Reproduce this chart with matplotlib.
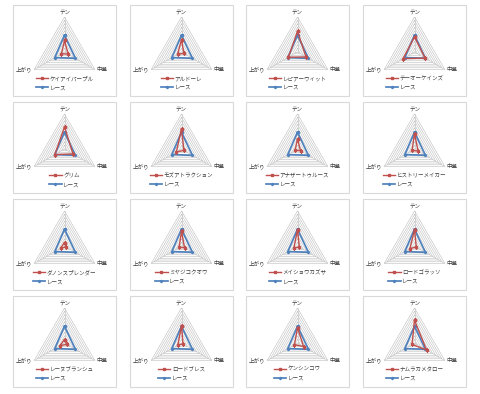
import numpy as np
import matplotlib
matplotlib.use("Agg")
import matplotlib.pyplot as plt
from matplotlib.patches import Rectangle

plt.rcParams['font.family'] = ['Noto Sans CJK JP', 'DejaVu Sans']

# ---- data ----
axes_labels = ["テン", "中盤", "上がり"]
horse_names = ["ケイアイパープル", "アルドーレ", "レピアーウィット", "テーオーケインズ",
               "グリム", "モズアトラクション", "アナザートゥルース", "ヒストリーメイカー",
               "ダノンスプレンダー", "ミヤジコクオウ", "メイショウカズサ", "ロードゴラッソ",
               "レーヌブランシュ", "ロードブレス", "ケンシンコウ", "ナムラカメタロー"]
horse_ten =    [0.33, 0.35, 0.59, 0.43, 0.63, 0.58, 0.29, 0.44,
                0.10, 0.42, 0.47, 0.47, 0.10, 0.50, 0.44, 0.65]
horse_chuban = [0.12, 0.08, 0.28, 0.35, 0.28, 0.08, 0.10, 0.12,
                0.05, 0.10, 0.06, 0.06, 0.08, 0.05, 0.20, 0.40]
horse_agari =  [0.10, 0.13, 0.30, 0.38, 0.32, 0.17, 0.08, 0.08,
                0.13, 0.08, 0.12, 0.15, 0.15, 0.12, 0.10, 0.08]
race_label = "レース"
race_values = [0.48, 0.36, 0.32]  # テン, 中盤, 上がり
n_levels = 10

# ---- layout ----
W, H = 480, 394
fig = plt.figure(figsize=(W / 100, H / 100), dpi=100)
fig.patch.set_facecolor("white")

col_lefts = [13, 130, 246, 363]
row_tops = [5, 102, 199, 296]
box_w, box_h = 103, 91
R = 35

RED = "#C0504D"
BLUE = "#4F81BD"
GRID = "#C4C4C4"

theta = np.array([0, 2 * np.pi / 3, 4 * np.pi / 3])
theta_closed = np.append(theta, theta[0])

for i, name in enumerate(horse_names):
    r, c = divmod(i, 4)
    left, top = col_lefts[c], row_tops[r]
    fig.patches.append(Rectangle((left / W, 1 - (top + box_h) / H), box_w / W, box_h / H,
                                 transform=fig.transFigure, facecolor="none",
                                 edgecolor="#D9D9D9", lw=0.8, zorder=-1))
    cx = left + box_w / 2
    cy = top + 47
    ax = fig.add_axes([(cx - R) / W, 1 - (cy + R) / H, 2 * R / W, 2 * R / H],
                      projection="polar")
    ax.set_theta_zero_location("N")
    ax.set_theta_direction(-1)
    ax.set_ylim(0, 1)
    ax.grid(False)
    ax.spines["polar"].set_visible(False)
    ax.set_xticks([])
    ax.set_yticks([])
    ax.patch.set_alpha(0)

    for k in range(1, n_levels + 1):
        lv = k / n_levels
        ax.plot(theta_closed, [lv] * 4, color=GRID, lw=0.45, zorder=1)
    for t in theta:
        ax.plot([t, t], [0, 1], color=GRID, lw=0.45, zorder=1)

    hv = [horse_ten[i], horse_chuban[i], horse_agari[i]]
    l1, = ax.plot(theta_closed, hv + [hv[0]], color=RED, lw=1.0, marker="s",
                  markersize=1.7, zorder=4, label=name)
    l2, = ax.plot(theta_closed, race_values + [race_values[0]], color=BLUE, lw=1.25,
                  marker="D", markersize=1.2, zorder=3, label=race_label)

    fs = 4
    ax.annotate(axes_labels[0], xy=(theta[0], 1), xytext=(0, 2.0), textcoords="offset points",
                ha="center", va="bottom", fontsize=fs, color="#404040")
    ax.annotate(axes_labels[1], xy=(theta[1], 1), xytext=(1.5, 0), textcoords="offset points",
                ha="left", va="center", fontsize=fs, color="#404040")
    ax.annotate(axes_labels[2], xy=(theta[2], 1), xytext=(-1.5, 0), textcoords="offset points",
                ha="right", va="center", fontsize=fs, color="#404040")

    fig.legend(handles=[l1, l2], loc="center",
               bbox_to_anchor=(cx / W, 1 - (top + 78) / H),
               frameon=False, fontsize=4, handlelength=2.2, handletextpad=0.3,
               labelspacing=0.7, borderpad=0, markerscale=1.0,
               labelcolor="#404040")

fig.savefig("out.png", dpi=100, facecolor="white")
